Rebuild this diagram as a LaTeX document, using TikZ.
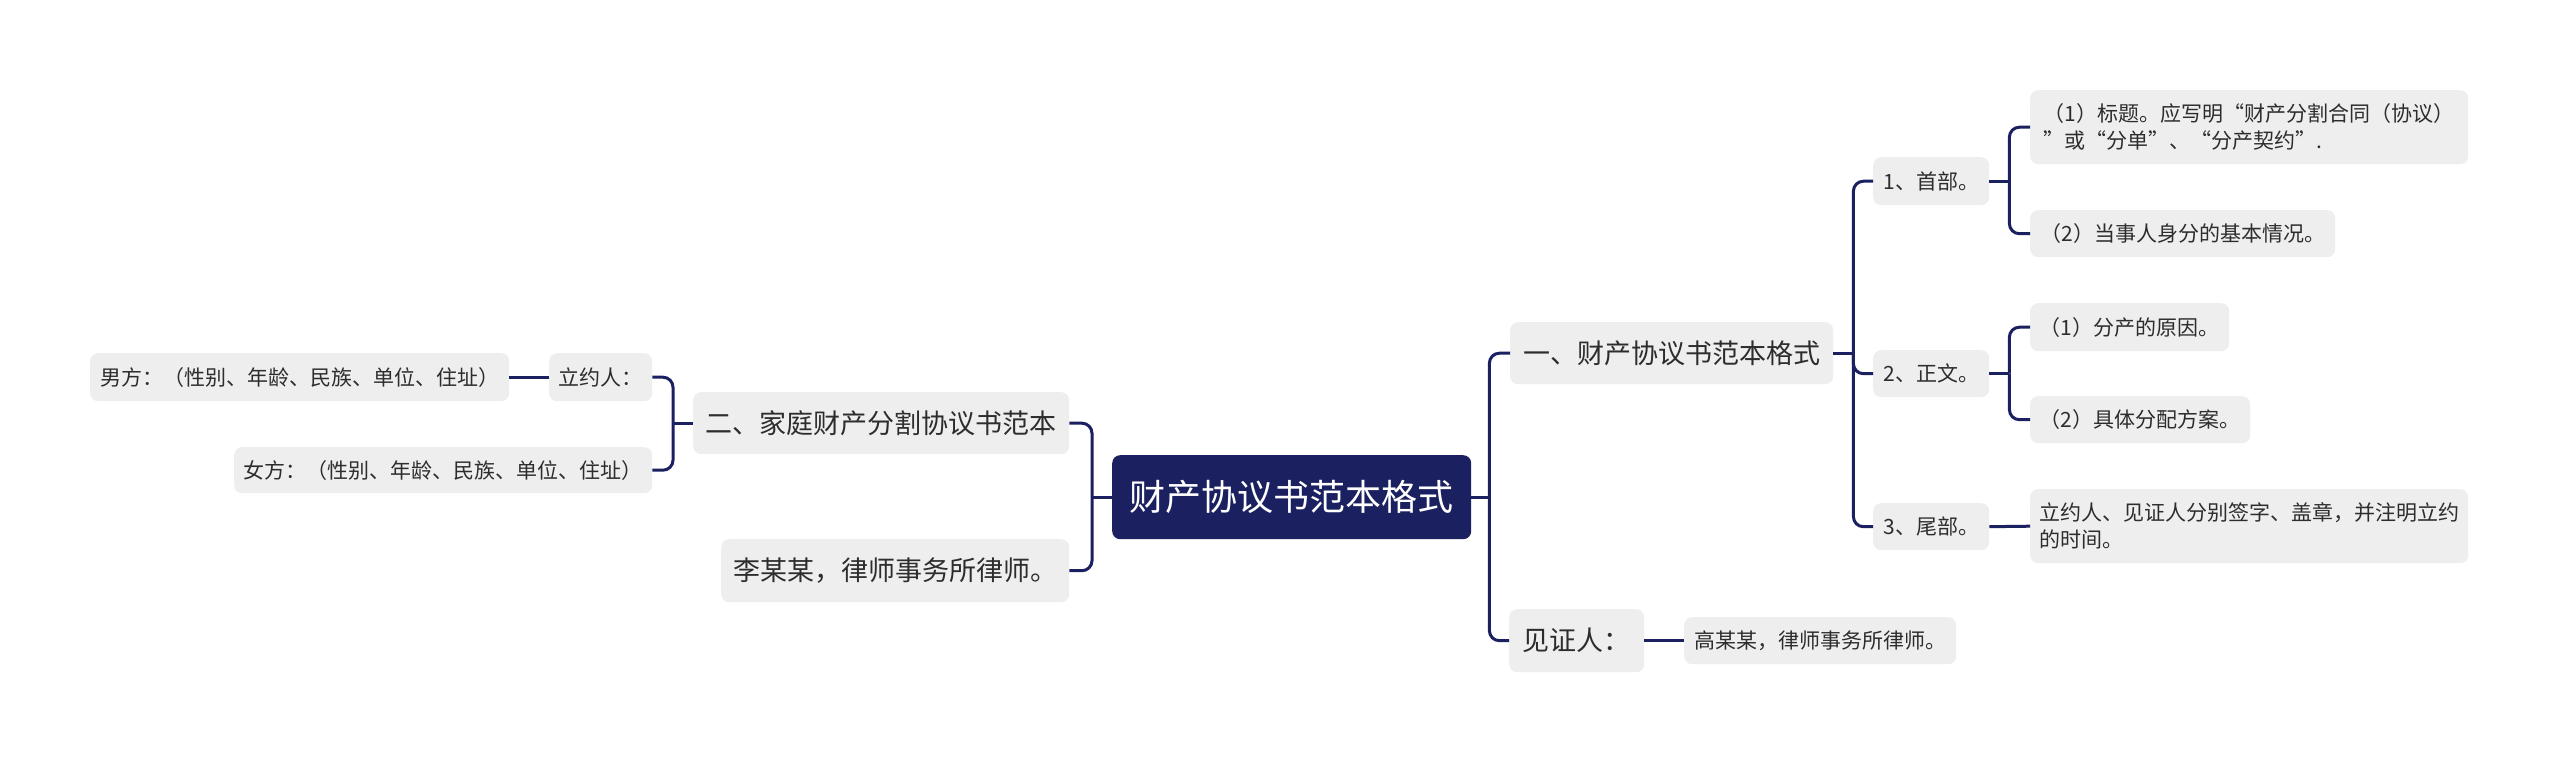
\documentclass[tikz,border=0pt]{standalone}
\usepackage{fontspec}
\setmainfont{Noto Sans CJK SC}
\definecolor{navy}{RGB}{27,32,96}
\definecolor{boxgray}{RGB}{238,238,238}
\definecolor{txt}{RGB}{45,45,45}
\begin{document}
\begin{tikzpicture}[x=1pt,y=-1pt,
  mmbase/.style={rounded corners=8pt, inner sep=0pt, anchor=north west, fill=boxgray, text=txt},
  mmroot/.style={mmbase, fill=navy, text=white, font=\fontsize{36}{44}\selectfont},
  mmbig/.style={mmbase, font=\fontsize{27}{34}\selectfont},
  mmsmall/.style={mmbase, font=\fontsize{21}{27}\selectfont},
  link/.style={draw=navy, line width=3pt, rounded corners=10pt}]
\useasboundingbox (0,0) rectangle (2560,762);
\fill[white] (0,0) rectangle (2560,762);

% root
\node[mmroot, minimum width=359pt, minimum height=84pt] (c) at (1112,455) {财产协议书范本格式};

% right side
\node[mmbig, minimum width=323pt, minimum height=62pt] (n1) at (1510,322) {一、财产协议书范本格式};
\node[mmbig, minimum width=135pt, minimum height=63pt] (w) at (1509,609) {见证人：};
\node[mmsmall, minimum width=272pt, minimum height=47pt] (g) at (1684,617) {高某某，律师事务所律师。};

\node[mmsmall, minimum width=116pt, minimum height=48pt] (a1) at (1873,157) {1、首部。};
\node[mmsmall, minimum width=116pt, minimum height=47pt] (a2) at (1873,350) {2、正文。};
\node[mmsmall, minimum width=116pt, minimum height=47pt] (a3) at (1873,503) {3、尾部。};

\node[mmsmall, minimum width=438pt, minimum height=74pt, align=left] (b1) at (2030,90) {（1）标题。应写明“财产分割合同（协议）\\”或“分单”、“分产契约”.};
\node[mmsmall, minimum width=305pt, minimum height=47pt] (b2) at (2030,210) {（2）当事人身分的基本情况。};
\node[mmsmall, minimum width=199pt, minimum height=48pt] (b3) at (2030,303) {（1）分产的原因。};
\node[mmsmall, minimum width=220pt, minimum height=47pt] (b4) at (2030,396) {（2）具体分配方案。};
\node[mmsmall, minimum width=438pt, minimum height=74pt, align=left] (b5) at (2030,489) {立约人、见证人分别签字、盖章，并注明立约\\的时间。};

% left side
\node[mmbig, minimum width=376pt, minimum height=62pt] (l1) at (693,392) {二、家庭财产分割协议书范本};
\node[mmbig, minimum width=348pt, minimum height=63pt] (l2) at (721,539) {李某某，律师事务所律师。};
\node[mmsmall, minimum width=103pt, minimum height=48pt] (m1) at (549,353) {立约人：};
\node[mmsmall, minimum width=419pt, minimum height=48pt] (male) at (90,353) {男方：（性别、年龄、民族、单位、住址）};
\node[mmsmall, minimum width=418pt, minimum height=46pt] (m2) at (234,447) {女方：（性别、年龄、民族、单位、住址）};

% junctions
\path (c.east) ++(18pt,0) coordinate (j0);
\path (n1.east) ++(20pt,0) coordinate (j1);
\path (a1.east) ++(20pt,0) coordinate (j2);
\path (a2.east) ++(20pt,0) coordinate (j3);
\path (c.west) ++(-20pt,0) coordinate (k0);
\path (l1.west) ++(-20pt,0) coordinate (k1);

% connectors
\draw[link] (c.east) -- (j0);
\draw[link] (j0) |- (n1.west);
\draw[link] (j0) |- (w.west);
\draw[link] (w.east) -- (g.west);
\draw[link] (n1.east) -- (j1);
\draw[link] (j1) |- (a1.west);
\draw[link] (j1) |- (a2.west);
\draw[link] (j1) |- (a3.west);
\draw[link] (a1.east) -- (j2);
\draw[link] (j2) |- (b1.west);
\draw[link] (j2) |- (b2.west);
\draw[link] (a2.east) -- (j3);
\draw[link] (j3) |- (b3.west);
\draw[link] (j3) |- (b4.west);
\draw[link] (a3.east) -- (b5.west);

\draw[link] (c.west) -- (k0);
\draw[link] (k0) |- (l1.east);
\draw[link] (k0) |- (l2.east);
\draw[link] (l1.west) -- (k1);
\draw[link] (k1) |- (m1.east);
\draw[link] (k1) |- (m2.east);
\draw[link] (m1.west) -- (male.east);
\end{tikzpicture}
\end{document}
